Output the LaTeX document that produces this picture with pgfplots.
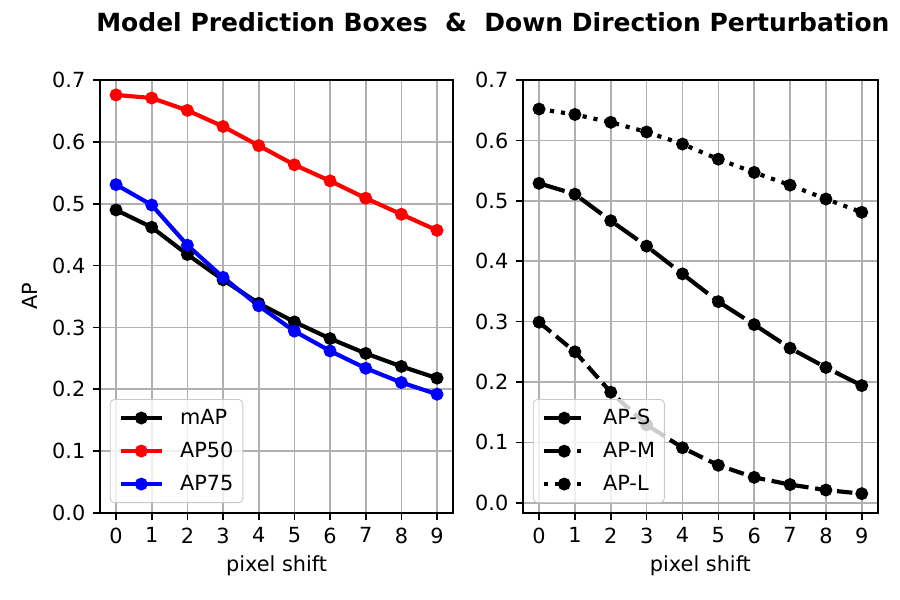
\documentclass[border=0pt]{standalone}
\usepackage{fontspec}
\setmainfont{DejaVu Sans}
\usepackage{pgfplots}
\pgfplotsset{compat=1.18}
\definecolor{gridgray}{HTML}{B0B0B0}

\pgfplotsset{
  shiftax/.style={
    scale only axis,
    width=169.5pt, height=207.8pt,
    anchor=south west,
    xmin=-0.45, xmax=9.45,
    xtick={0,...,9},
    grid=major,
    major grid style={gridgray, line width=0.8pt},
    axis line style={line width=0.8pt},
    tick style={line width=0.8pt, black},
    tick align=outside,
    major tick length=3.5pt,
    xtick pos=bottom, ytick pos=left,
    /pgf/number format/assume math mode=true,
    ticklabel style={font=\fontsize{10}{12}\selectfont},
    yticklabel style={/pgf/number format/fixed, /pgf/number format/fixed zerofill, /pgf/number format/precision=1},
    label style={font=\fontsize{10}{12}\selectfont},
    xlabel={pixel shift},
    xlabel style={yshift=1pt},
    legend cell align=left,
    legend style={font=\fontsize{10}{12}\selectfont, draw=gridgray!70, rounded corners=2pt,
      fill=white, fill opacity=0.8, draw opacity=1, text opacity=1,
      at={(0.028,0.023)}, anchor=south west, inner sep=2.5pt,
      row sep=3pt},
    legend image code/.code={\path (-0.05cm,0cm) (0.9cm,0cm);
      \draw[fill opacity=1, draw opacity=1, mark repeat=2, mark phase=2, #1] plot coordinates {(0cm,0cm) (0.35cm,0cm) (0.7cm,0cm)};},
    every axis plot/.append style={line width=2pt, mark=*, mark size=2.7pt, mark options={solid, line width=0.8pt}},
  }
}

\begin{document}
\begin{tikzpicture}
\path[use as bounding box] (0,0) rectangle (432pt,288pt);

\node[font=\fontsize{12}{14}\selectfont\bfseries] at (236.6pt,277.4pt)
  {Model Prediction Boxes\ \ \&\ \ Down Direction Perturbation};

\begin{axis}[shiftax, at={(48pt,41.76pt)},
    ymin=0, ymax=0.7, ytick={0,0.1,...,0.7},
    ylabel={AP}, ylabel style={yshift=0pt}]
  \addplot[black] coordinates {(0,0.490) (1,0.462) (2,0.418) (3,0.377) (4,0.339) (5,0.309) (6,0.282) (7,0.258) (8,0.237) (9,0.218)};
  \addlegendentry{mAP}
  \addplot[red] coordinates {(0,0.676) (1,0.671) (2,0.651) (3,0.625) (4,0.594) (5,0.563) (6,0.537) (7,0.509) (8,0.483) (9,0.457)};
  \addlegendentry{AP50}
  \addplot[blue] coordinates {(0,0.531) (1,0.498) (2,0.433) (3,0.381) (4,0.335) (5,0.294) (6,0.262) (7,0.234) (8,0.211) (9,0.192)};
  \addlegendentry{AP75}
\end{axis}

\begin{axis}[shiftax, at={(251pt,41.76pt)}, width=170.4pt,
    ymin=-0.017, ymax=0.7, ytick={0,0.1,...,0.7}]
  \addplot[black, dash pattern=on 7.4pt off 3.2pt] coordinates {(0,0.299) (1,0.250) (2,0.183) (3,0.129) (4,0.091) (5,0.062) (6,0.042) (7,0.030) (8,0.021) (9,0.015)};
  \addlegendentry{AP-S}
  \addplot[black, dash pattern=on 12.8pt off 3.2pt on 2pt off 3.2pt] coordinates {(0,0.529) (1,0.511) (2,0.467) (3,0.425) (4,0.379) (5,0.333) (6,0.295) (7,0.256) (8,0.224) (9,0.194)};
  \addlegendentry{AP-M}
  \addplot[black, dash pattern=on 2pt off 3.3pt] coordinates {(0,0.652) (1,0.643) (2,0.630) (3,0.614) (4,0.594) (5,0.569) (6,0.547) (7,0.526) (8,0.503) (9,0.481)};
  \addlegendentry{AP-L}
\end{axis}
\end{tikzpicture}
\end{document}
